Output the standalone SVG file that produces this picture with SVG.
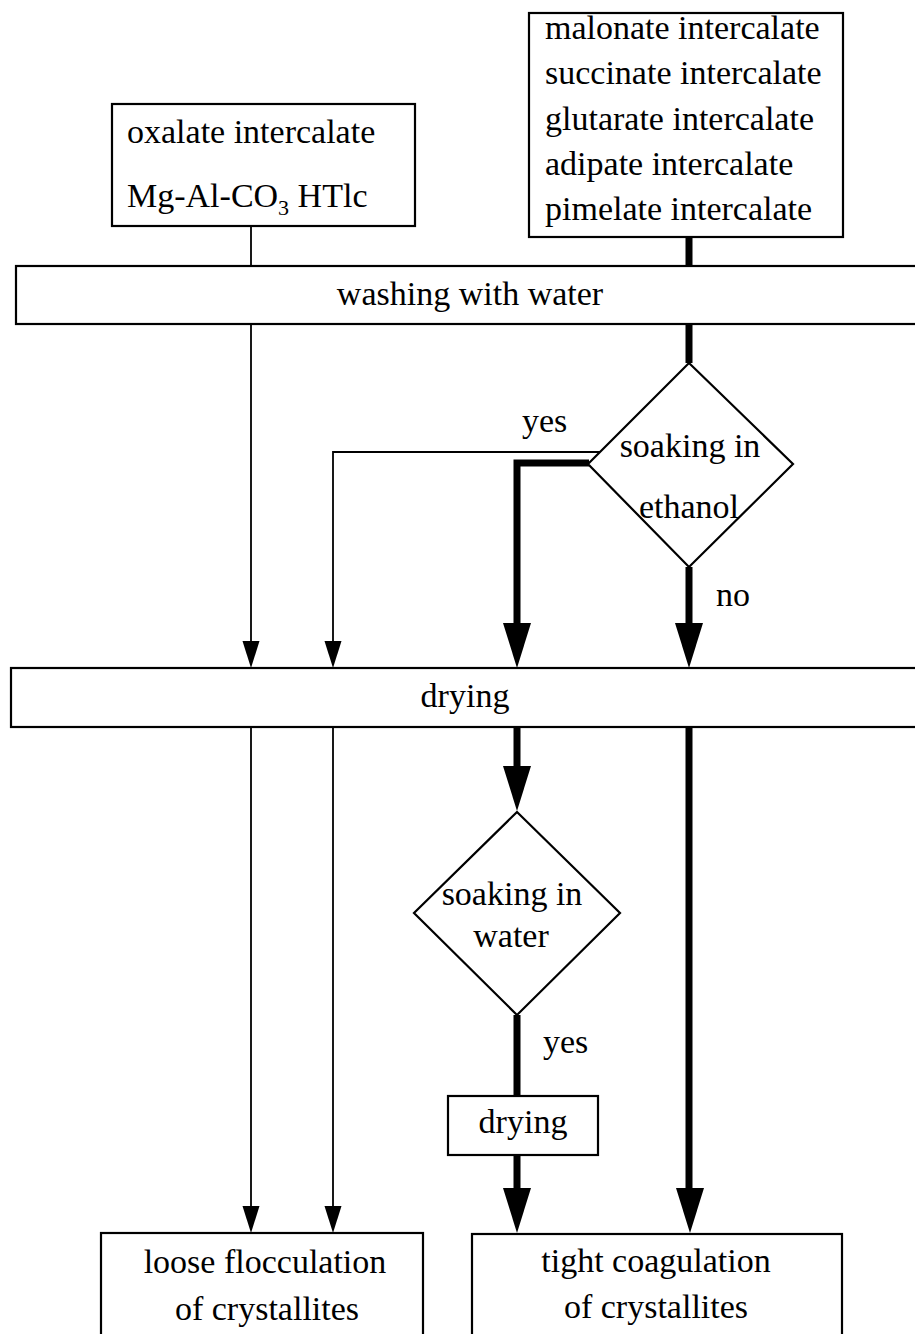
<svg xmlns="http://www.w3.org/2000/svg" width="915" height="1334" viewBox="0 0 915 1334">
<style>
.box{fill:#fff;stroke:#000;stroke-width:2.2}
.t{font-family:"Liberation Serif","Times New Roman",serif;font-size:34px;fill:#000}
.c{text-anchor:middle}
.thin{fill:none;stroke:#000;stroke-width:1.8}
.thick{fill:none;stroke:#000;stroke-width:7}
.ah{fill:#000;stroke:none}
</style>
<rect width="915" height="1334" fill="#fff"/>
<g id="connectors">
<path class="thin" d="M251,226 V266 M251,324 V645 M251,727 V1210"/>
<polygon class="ah" points="242.5,641 259.5,641 251,668"/>
<polygon class="ah" points="242.5,1206 259.5,1206 251,1233"/>
<path class="thin" d="M600,452 H333 V645 M333,727 V1210"/>
<polygon class="ah" points="324.5,641 341.5,641 333,668"/>
<polygon class="ah" points="324.5,1206 341.5,1206 333,1233"/>
<path class="thick" d="M689,237 V266 M689,324 V363"/>
<path class="thick" d="M589,463 H517 V630"/>
<polygon class="ah" points="503,623 531,623 517,668"/>
<path class="thick" d="M689,567 V630 M689,727 V1195"/>
<polygon class="ah" points="675,623 703,623 689,668"/>
<polygon class="ah" points="676,1188 704,1188 690,1233"/>
<path class="thick" d="M517,727 V775"/>
<polygon class="ah" points="503,766 531,766 517,811"/>
<path class="thick" d="M517,1015 V1096 M517,1155 V1195"/>
<polygon class="ah" points="503,1188 531,1188 517,1233"/>
</g>
<g id="oxalate">
<rect class="box" x="112" y="104" width="303" height="122"/>
<text class="t" x="127" y="143">oxalate intercalate</text>
<text class="t" x="127" y="207">Mg-Al-CO<tspan font-size="22" dy="8">3</tspan><tspan dy="-8"> HTlc</tspan></text>
</g>
<g id="dicarboxylates">
<rect class="box" x="529" y="13" width="314" height="224"/>
<text class="t" x="545" y="39">malonate intercalate</text>
<text class="t" x="545" y="84">succinate intercalate</text>
<text class="t" x="545" y="130">glutarate intercalate</text>
<text class="t" x="545" y="175">adipate intercalate</text>
<text class="t" x="545" y="220">pimelate intercalate</text>
</g>
<g id="washing">
<rect class="box" x="16" y="266" width="920" height="58"/>
<text class="t c" x="470" y="305">washing with water</text>
</g>
<g id="ethanol-decision">
<polygon class="box" points="689,363 793,464 689,567 588,464"/>
<text class="t c" x="690" y="457">soaking in</text>
<text class="t c" x="689" y="518">ethanol</text>
<text class="t" x="522" y="432">yes</text>
<text class="t" x="716" y="606">no</text>
</g>
<g id="drying">
<rect class="box" x="11" y="668" width="925" height="59"/>
<text class="t c" x="465" y="707">drying</text>
</g>
<g id="water-decision">
<polygon class="box" points="517,812 620,913 517,1015 414,913"/>
<text class="t c" x="512" y="905">soaking in</text>
<text class="t c" x="511" y="947">water</text>
<text class="t" x="543" y="1053">yes</text>
</g>
<g id="drying2">
<rect class="box" x="448" y="1096" width="150" height="59"/>
<text class="t c" x="523" y="1133">drying</text>
</g>
<g id="loose">
<rect class="box" x="101" y="1233" width="322" height="110"/>
<text class="t c" x="265" y="1273">loose flocculation</text>
<text class="t c" x="267" y="1320">of crystallites</text>
</g>
<g id="tight">
<rect class="box" x="472" y="1234" width="370" height="110"/>
<text class="t c" x="656" y="1272">tight coagulation</text>
<text class="t c" x="656" y="1318">of crystallites</text>
</g>
</svg>
